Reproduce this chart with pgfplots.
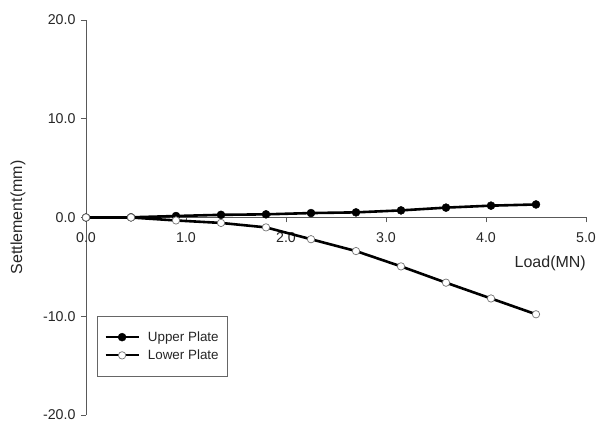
\documentclass[border=0pt]{standalone}
\usepackage{pgfplots}
\pgfplotsset{compat=1.18}
\usepackage{fontspec}
\setmainfont{Liberation Sans}
\begin{document}
\begin{tikzpicture}[x=1pt,y=1pt]
\path[use as bounding box] (-86,-8) rectangle (520,415);
\begin{axis}[
  at={(0,0)}, anchor=south west,
  scale only axis, width=500pt, height=395pt,
  xmin=0, xmax=5, ymin=-20, ymax=20,
  axis x line=middle, axis y line=left,
  axis line style={draw=black!65, line width=0.8pt, -},
  tick style={draw=black!65, line width=0.8pt},
  tick align=outside, major tick length=5pt,
  hide obscured x ticks=false, hide obscured y ticks=false,
  xtick={0,1,2,3,4,5}, ytick={-20,-10,0,10,20},
  /pgf/number format/assume math mode=true,
  /pgf/number format/fixed, /pgf/number format/fixed zerofill,
  /pgf/number format/precision=1,
  ticklabel style={font=\fontsize{14.2}{16}\selectfont, text=black!85},
  xticklabel style={yshift=-7pt},
  yticklabel style={xshift=-2pt},
  xlabel={Load(MN)},
  xlabel style={at={(rel axis cs:1,0.384)}, anchor=east, font=\fontsize{16}{18}\selectfont, text=black!85, inner sep=0pt},
  ylabel={Settlement(mm)},
  ylabel style={at={(axis description cs:-0.136,0.5)}, anchor=center, font=\fontsize{16}{18}\selectfont, text=black!85},
  legend style={at={(axis cs:0.11,-10)}, anchor=north west, draw=black!60, line width=0.6pt,
    font=\fontsize{13.4}{15}\selectfont, text=black!85, row sep=5pt,
    inner xsep=6pt, inner ysep=14pt, nodes={inner xsep=3pt, inner ysep=1pt}},
  legend cell align=left,
  legend image code/.code={\path (-1pt,0pt) (38pt,0pt);\draw[mark repeat=2, mark phase=2, line width=2pt] plot coordinates {(0pt,0pt) (16.5pt,0pt) (33pt,0pt)};},
  clip=false,
]
\addplot[black, line width=2.6pt, mark=*, mark size=4pt, mark options={fill=black, draw=black, line width=0.4pt}]
coordinates {(0,0) (0.45,0.02) (0.9,0.15) (1.35,0.27) (1.8,0.32) (2.25,0.45) (2.7,0.52) (3.15,0.72) (3.6,1.0) (4.05,1.2) (4.5,1.32)};
\addlegendentry{Upper Plate\hspace{7pt}}
\addplot[black, line width=2.6pt, mark=*, mark size=3.7pt, mark options={fill=white, draw=black!55, line width=0.7pt}]
coordinates {(0,0) (0.45,0) (0.9,-0.3) (1.35,-0.55) (1.8,-1.0) (2.25,-2.2) (2.7,-3.4) (3.15,-4.95) (3.6,-6.6) (4.05,-8.2) (4.5,-9.8)};
\addlegendentry{Lower Plate}
\end{axis}
\end{tikzpicture}
\end{document}
